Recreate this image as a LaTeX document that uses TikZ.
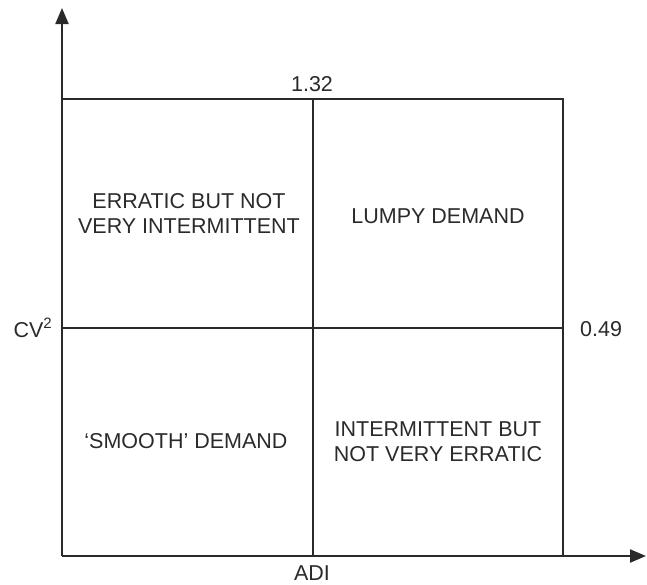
\documentclass[tikz,border=0pt]{standalone}
\usepackage{fontspec}
\setmainfont{Liberation Sans}
\usetikzlibrary{arrows.meta}
\definecolor{ink}{HTML}{2A2A2A}
\begin{document}
\begin{tikzpicture}[x=1pt,y=-1pt,
  axisline/.style={draw=ink,line width=2.2pt,-{Triangle[length=16pt,width=13pt]}},
  gridline/.style={draw=ink,line width=1.4pt},
  lbl/.style={text=ink,inner sep=0pt,font=\fontsize{21.5}{25}\selectfont,align=center}]
\useasboundingbox (0,0) rectangle (647,584);
% corners
\coordinate (o) at (62,556);
\coordinate (ytip) at (62,8);
\coordinate (xtip) at (646,556);
\coordinate (tl) at (62,99);
\coordinate (tr) at (563,99);
\coordinate (br) at (563,556);
\coordinate (tm) at (313,99);
\coordinate (bm) at (313,556);
\coordinate (ml) at (62,328);
\coordinate (mr) at (563,328);
% grid
\draw[gridline] (tl) -- (tr) -- (br);
\draw[gridline] (tm) -- (bm);
\draw[gridline] (ml) -- (mr);
% axes
\draw[axisline] (o) -- (ytip);
\draw[axisline] (o) -- (xtip);
% labels
\node[lbl,anchor=base] (l132) at (312,91) {1.32};
\node[lbl,anchor=base west] (l049) at (580,336) {0.49};
\node[lbl,anchor=base east] (cv) at (52,337) {CV\raisebox{0.38em}{\fontsize{15}{15}\selectfont 2}};
\node[lbl,anchor=base] (adi) at (312,580) {ADI};
\node[lbl] (q1) at (189,213) {ERRATIC BUT NOT\\VERY INTERMITTENT};
\node[lbl] (q2) at (438,216) {LUMPY DEMAND};
\node[lbl] (q3) at (186,441) {‘SMOOTH’ DEMAND};
\node[lbl] (q4) at (438,442) {INTERMITTENT BUT\\NOT VERY ERRATIC};
\end{tikzpicture}
\end{document}
